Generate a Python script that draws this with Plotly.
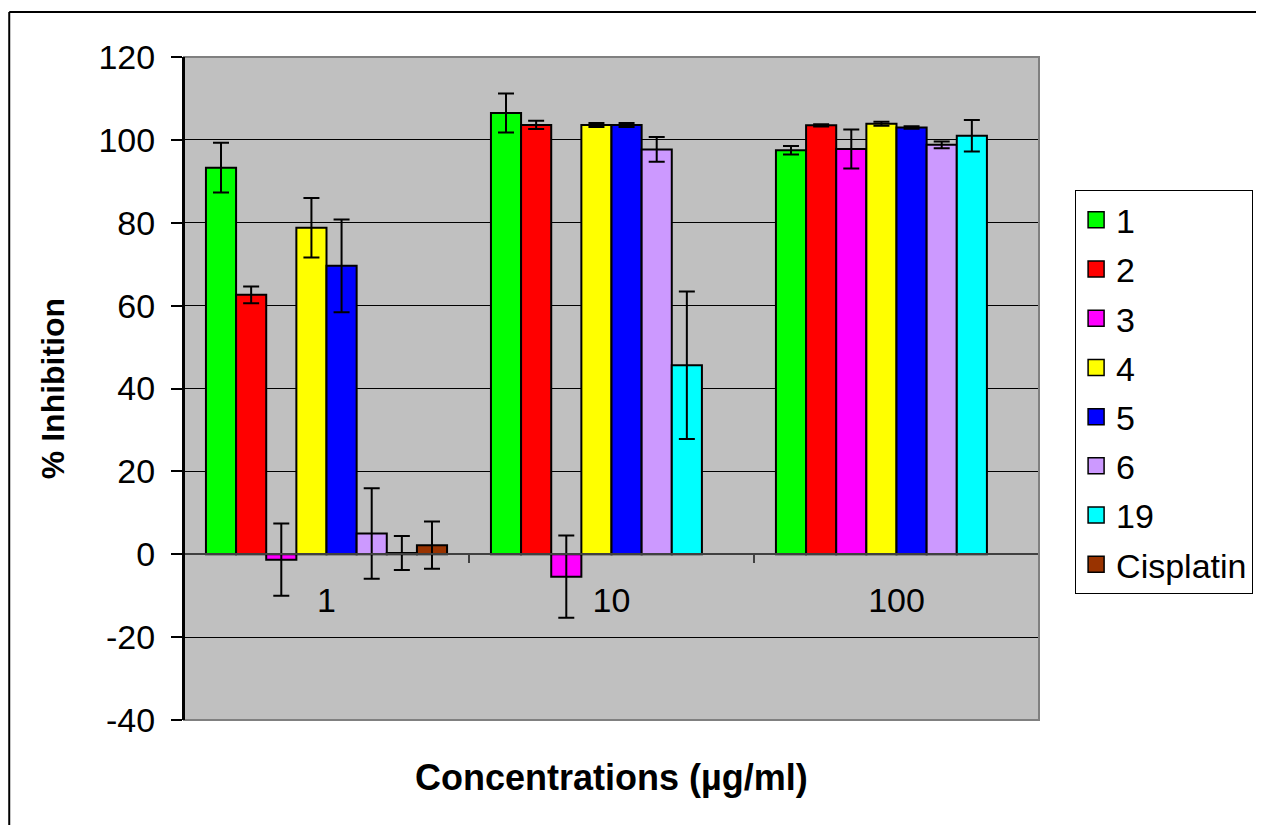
import plotly.graph_objects as go

# ---- data ----
categories = ["1", "10", "100"]
series_names = ["1", "2", "3", "4", "5", "6", "19", "Cisplatin"]
series_colors = ["#00FF00", "#FF0000", "#FF00FF", "#FFFF00", "#0000FF", "#CC99FF", "#00FFFF", "#993300"]

s1 = [93.3, 106.5, 97.5]
s1_err = [6.0, 4.7, 1.0]
s2 = [62.6, 103.6, 103.5]
s2_err = [2.0, 1.0, 0.3]
s3 = [-1.3, -5.4, 97.8]
s3_err = [8.7, 9.9, 4.7]
s4 = [78.8, 103.6, 103.9]
s4_err = [7.2, 0.5, 0.5]
s5 = [69.6, 103.6, 103.0]
s5_err = [11.2, 0.5, 0.3]
s6 = [5.0, 97.7, 98.8]
s6_err = [10.9, 3.0, 0.8]
s19 = [0.3, 45.6, 101.0]
s19_err = [4.1, 17.8, 3.8]
cisplatin = [2.2, None, None]
cisplatin_err = [5.7, None, None]

y_ticks = [-40, -20, 0, 20, 40, 60, 80, 100, 120]
y_ticktext = ["-40", "-20", "0", "20", "40", "60", "80", "100", "120"]

values = [s1, s2, s3, s4, s5, s6, s19, cisplatin]
errors = [s1_err, s2_err, s3_err, s4_err, s5_err, s6_err, s19_err, cisplatin_err]

FONT = "Liberation Sans, Arial, Helvetica, sans-serif"

fig = go.Figure()
for name, color, vals, errs in zip(series_names, series_colors, values, errors):
    fig.add_trace(go.Bar(
        x=categories, y=vals, name=name,
        marker=dict(color=color, line=dict(color="black", width=2)),
        error_y=dict(type="data", array=errs, visible=True,
                     color="black", thickness=2, width=8),
        showlegend=False,
    ))

# legend entries (square swatches)
for i, (name, color) in enumerate(zip(series_names, series_colors)):
    fig.add_trace(go.Scatter(
        x=[None], y=[None], mode="markers", name=name,
        legendgroup=f"g{i}",
        marker=dict(symbol="square", size=16, color=color,
                    line=dict(color="black", width=1.5)),
        showlegend=True,
    ))

fig.update_layout(
    width=1256, height=817, autosize=False,
    margin=dict(l=176, r=224, t=49, b=105, pad=0),
    paper_bgcolor="white",
    plot_bgcolor="#C0C0C0",
    barmode="group",
    bargap=0.154,
    bargroupgap=0,
    font=dict(family=FONT, size=34, color="black"),
    legend=dict(
        x=1.041, y=0.799, xanchor="left", yanchor="top",
        bordercolor="black", borderwidth=1, bgcolor="white",
        font=dict(family=FONT, size=34, color="black"),
        tracegroupgap=2,
        traceorder="grouped",
    ),
    xaxis=dict(
        type="category",
        anchor="free", position=0.25,
        showline=True, linecolor="#404040", linewidth=2,
        ticks="outside", tickson="boundaries", ticklen=8,
        tickcolor="#404040", tickwidth=1.5,
        tickfont=dict(family=FONT, size=34, color="black"),
        ticklabelstandoff=16,
        showgrid=False,
        zeroline=False,
    ),
    yaxis=dict(
        range=[-40, 120], tickvals=y_ticks, ticktext=y_ticktext,
        domain=[0, 1],
        showline=True, linecolor="black", linewidth=2,
        ticks="outside", ticklen=11, tickcolor="black", tickwidth=1.5,
        tickfont=dict(family=FONT, size=34, color="black"),
        ticklabelstandoff=9,
        showgrid=True, gridcolor="black", gridwidth=1,
        zeroline=True, zerolinecolor="#404040", zerolinewidth=2,
        title=dict(text="<b>% Inhibition</b>", standoff=24,
                   font=dict(family=FONT, size=32, color="black")),
    ),
    annotations=[dict(
        text="<b>Concentrations (µg/ml)</b>",
        xref="paper", yref="paper", x=0.5, y=-0.086,
        xanchor="center", yanchor="middle", showarrow=False,
        font=dict(family=FONT, size=36, color="black"),
    )],
    shapes=[
        dict(type="rect", xref="paper", yref="paper", x0=0, x1=1, y0=0, y1=1,
             line=dict(color="#808080", width=2), layer="above"),
        dict(type="line", xref="paper", yref="paper", x0=0, x1=0, y0=0, y1=1,
             line=dict(color="black", width=2), layer="above"),
        dict(type="line", xref="paper", yref="paper", x0=-0.2044, x1=-0.2044,
             y0=-0.5, y1=1.0679, line=dict(color="black", width=2)),
        dict(type="line", xref="paper", yref="paper", x0=-0.2044, x1=1.6,
             y0=1.0679, y1=1.0679, line=dict(color="black", width=2)),
    ],
)

fig.write_html("out.html")
